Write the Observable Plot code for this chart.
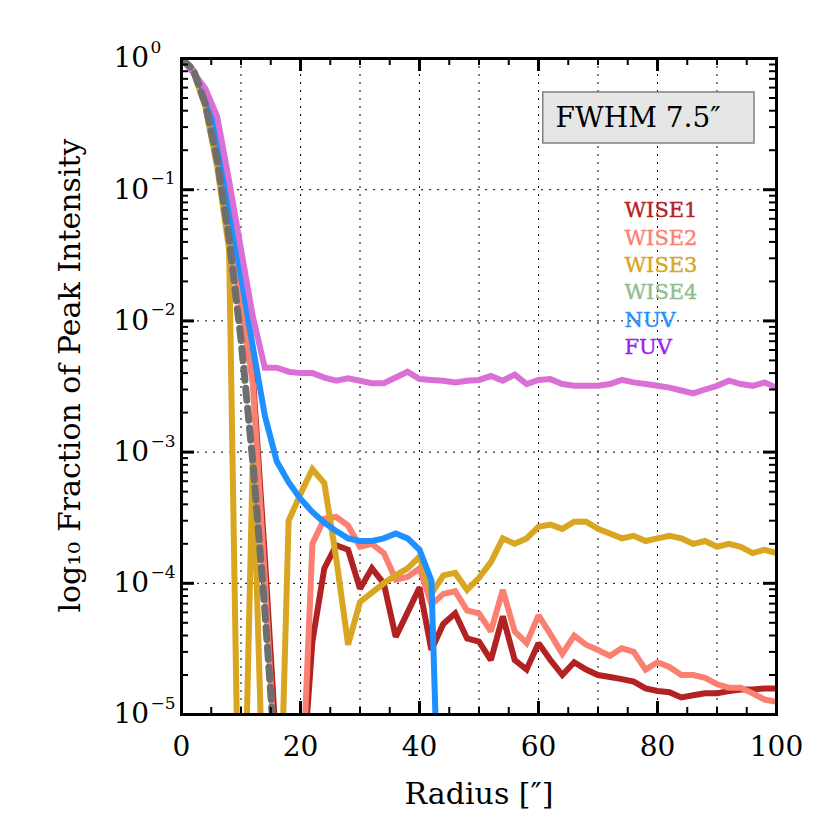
<!DOCTYPE html>
<html><head><meta charset="utf-8">
<script src="https://cdn.jsdelivr.net/npm/d3@7"></script>
<script src="https://cdn.jsdelivr.net/npm/@observablehq/plot@0.6"></script>
<style>body{margin:0;background:#fff} #chart{width:830px;height:830px}</style>
</head><body><div id="chart"></div>
<script>
// Radius in arcsec
const radius = [0,2,4,6,8,10,12,14,16,18,20,22,24,26,28,30,32,34,36,38,40,42,44,46,48,50,52,54,56,58,60,62,64,66,68,70,72,74,76,78,80,82,84,86,88,90,92,94,96,98,100];

// Fraction of peak intensity (values under 1e-5 fall below the axis)
const wise1 = [1,0.81,0.48,0.20,0.058,0.014,3.8e-3,1.6e-4,5.0e-6,3.2e-7,2.0e-6,3.6e-5,1.3e-4,1.95e-4,1.8e-4,9.1e-5,1.3e-4,1.0e-4,3.9e-5,6.0e-5,9.3e-5,3.1e-5,4.9e-5,5.9e-5,3.8e-5,3.6e-5,2.6e-5,5.6e-5,2.6e-5,2.2e-5,3.5e-5,2.6e-5,2.0e-5,2.5e-5,2.2e-5,2.0e-5,1.93e-5,1.86e-5,1.78e-5,1.58e-5,1.51e-5,1.48e-5,1.35e-5,1.40e-5,1.45e-5,1.45e-5,1.51e-5,1.55e-5,1.55e-5,1.58e-5,1.58e-5];
const wise2 = [1,0.81,0.48,0.20,0.056,0.013,3.3e-3,1.1e-4,2.7e-6,3.2e-7,1.35e-6,2.0e-4,3.1e-4,3.2e-4,2.75e-4,1.9e-4,2.0e-4,1.7e-4,1.07e-4,1.12e-4,1.3e-4,6.9e-5,8.3e-5,8.7e-5,6.2e-5,5.9e-5,4.3e-5,8.9e-5,4.3e-5,3.5e-5,5.7e-5,4.1e-5,2.9e-5,4.0e-5,3.4e-5,3.1e-5,2.8e-5,3.2e-5,3.0e-5,2.2e-5,2.5e-5,2.3e-5,2.0e-5,2.0e-5,1.9e-5,1.7e-5,1.6e-5,1.6e-5,1.45e-5,1.3e-5,1.25e-5];
const wise3 = [1,0.79,0.43,0.15,0.035,1e-7,1.0e-3,8e-7,1.6e-7,3.0e-4,4.8e-4,7.4e-4,5.8e-4,1.55e-4,3.4e-5,7.2e-5,8.5e-5,1.0e-4,1.15e-4,1.3e-4,1.6e-4,8.3e-5,1.15e-4,1.2e-4,8.9e-5,1.1e-4,1.45e-4,2.2e-4,2.0e-4,2.2e-4,2.7e-4,2.8e-4,2.6e-4,2.95e-4,2.95e-4,2.6e-4,2.4e-4,2.2e-4,2.3e-4,2.1e-4,2.2e-4,2.3e-4,2.2e-4,2.0e-4,2.1e-4,1.9e-4,2.0e-4,1.9e-4,1.7e-4,1.8e-4,1.7e-4];
const nuv = [1,0.78,0.54,0.28,0.076,0.022,6.3e-3,1.9e-3,8.5e-4,5.9e-4,4.4e-4,3.5e-4,2.9e-4,2.5e-4,2.2e-4,2.1e-4,2.1e-4,2.2e-4,2.4e-4,2.2e-4,1.8e-4,1.05e-4,1e-7];
const fuv = [1,0.78,0.59,0.36,0.117,0.035,0.0107,4.4e-3,4.4e-3,4.1e-3,4.0e-3,4.0e-3,3.7e-3,3.5e-3,3.65e-3,3.5e-3,3.35e-3,3.35e-3,3.7e-3,4.1e-3,3.6e-3,3.55e-3,3.5e-3,3.4e-3,3.5e-3,3.55e-3,3.8e-3,3.5e-3,3.9e-3,3.3e-3,3.55e-3,3.6e-3,3.3e-3,3.2e-3,3.2e-3,3.2e-3,3.3e-3,3.55e-3,3.4e-3,3.3e-3,3.2e-3,3.1e-3,2.95e-3,2.8e-3,3.0e-3,3.2e-3,3.5e-3,3.3e-3,3.2e-3,3.4e-3,3.1e-3];
const gaussPSF = [1,0.82,0.454,0.169,0.0427,0.0072,8.3e-4,6.3e-5,3.3e-6,1.1e-7];

const legendNames = ["WISE1","WISE2","WISE3","WISE4","NUV","FUV"];
const legendColors = ["#B22222","#FA8072","#DAA520","#8FBC8F","#1E90FF","#A020F0"];

const xMajor = [0,20,40,60,80,100];
const xMinor = [5,10,15,25,30,35,45,50,55,65,70,75,85,90,95];
const xGrid = [10,20,30,40,50,60,70,80,90];
const yMajor = [1,1e-1,1e-2,1e-3,1e-4,1e-5];
const yTickExponents = ["0","\u22121","\u22122","\u22123","\u22124","\u22125"];
const yGrid = [1e-1,1e-2,1e-3,1e-4];
const yMinor = [];
for (const d of [1e-5,1e-4,1e-3,1e-2,1e-1]) for (const k of [2,3,4,5,6,7,8,9]) yMinor.push(+(k*d).toPrecision(3));

const toRows = (vals) => vals.map((v, i) => ({r: radius[i], v}));

const W = 830, H = 830, mL = 181, mR = 54, mT = 58, mB = 116;
const fw = W - mL - mR, fh = H - mT - mB;
const font = "DejaVu Serif";

const lineOpts = (color) => ({x: "r", y: "v", stroke: color, strokeWidth: 6, strokeLinejoin: "miter", strokeMiterlimit: 2, clip: true});

const chart = Plot.plot({
  width: W, height: H,
  marginLeft: mL, marginRight: mR, marginTop: mT, marginBottom: mB,
  style: {fontFamily: font, background: "white", color: "black"},
  x: {domain: [0, 100], axis: null},
  y: {type: "log", domain: [1e-5, 1], axis: null},
  marks: [
    Plot.ruleX(xGrid, {stroke: "black", strokeWidth: 1, strokeDasharray: "2,6"}),
    Plot.ruleY(yGrid, {stroke: "black", strokeWidth: 1, strokeDasharray: "2,6"}),
    Plot.line(toRows(wise1), lineOpts(legendColors[0])),
    Plot.line(toRows(wise2), lineOpts(legendColors[1])),
    Plot.line(toRows(wise3), lineOpts(legendColors[2])),
    Plot.line(toRows(nuv), lineOpts(legendColors[4])),
    Plot.line(toRows(fuv), lineOpts("#DA70D6")),
    Plot.line(toRows(gaussPSF), {x: "r", y: "v", stroke: "#6e6e6e", strokeWidth: 7, strokeDasharray: "12,8", clip: true}),
    // FWHM annotation box
    Plot.rect([0], {x1: 60.8, x2: 96.3, y1: 0.551, y2: 0.225, fill: "#e6e6e6", stroke: "#808080", strokeWidth: 1.5}),
    Plot.text(["FWHM 7.5\u2033"], {frameAnchor: "top-left", dx: 374, dy: 60, textAnchor: "start", lineAnchor: "middle", fontSize: 28, fill: "black"}),
    // legend
    ...legendNames.map((n, i) => Plot.text([n], {frameAnchor: "top-left", dx: 443, dy: 152 + i * 27.4, textAnchor: "start", lineAnchor: "middle", fontSize: 21, fill: legendColors[i], stroke: legendColors[i], strokeWidth: 0.4})),
    Plot.frame({stroke: "black", strokeWidth: 3}),
    // inward ticks on all four sides
    Plot.ruleX(xMajor, {insetTop: fh - 13, strokeWidth: 3}),
    Plot.ruleX(xMajor, {insetBottom: fh - 13, strokeWidth: 3}),
    Plot.ruleX(xMinor, {insetTop: fh - 7, strokeWidth: 2}),
    Plot.ruleX(xMinor, {insetBottom: fh - 7, strokeWidth: 2}),
    Plot.ruleY(yMajor, {insetRight: fw - 13, strokeWidth: 3}),
    Plot.ruleY(yMajor, {insetLeft: fw - 13, strokeWidth: 3}),
    Plot.ruleY(yMinor, {insetRight: fw - 7, strokeWidth: 2}),
    Plot.ruleY(yMinor, {insetLeft: fw - 7, strokeWidth: 2}),
    // tick labels
    Plot.text(xMajor, {x: d => d, text: d => String(d), frameAnchor: "bottom", dy: 33, lineAnchor: "middle", fontSize: 28, fill: "black"}),
    Plot.text(yMajor, {y: d => d, text: () => "10", frameAnchor: "left", dx: -68, textAnchor: "start", lineAnchor: "middle", fontSize: 28, fill: "black"}),
    Plot.text(yMajor, {y: d => d, text: (d, i) => yTickExponents[i], frameAnchor: "left", dx: -31, dy: -11, textAnchor: "start", lineAnchor: "middle", fontSize: 17, fill: "black"}),
    // axis titles
    Plot.text(["Radius [\u2033]"], {frameAnchor: "bottom", dy: 80, textAnchor: "middle", lineAnchor: "middle", fontSize: 30, fill: "black", style: "letter-spacing:1.5px"}),
    Plot.text(["log\u2081\u2080 Fraction of Peak Intensity"], {frameAnchor: "left", dx: -111, dy: -11, rotate: -90, textAnchor: "middle", lineAnchor: "middle", fontSize: 30, fill: "black"})
  ]
});
document.getElementById("chart").appendChild(chart);
</script>
</body></html>
